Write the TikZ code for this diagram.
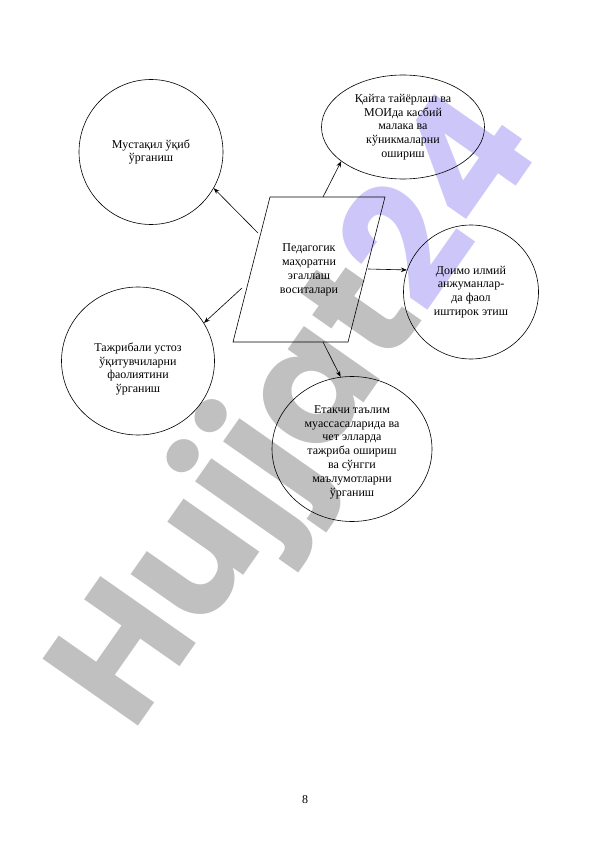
\documentclass[tikz,border=0pt]{standalone}
\usepackage{fontspec}
\setmainfont{Liberation Serif}
\newfontfamily\wmfont{Poppins}
\usetikzlibrary{shapes.geometric,arrows.meta}
\definecolor{wmgray}{RGB}{192,192,192}
\definecolor{wmpurple}{RGB}{205,198,248}
\tikzset{
  bubble/.style={draw,ellipse,line width=0.6pt,inner sep=0pt,align=center,
    font=\fontsize{12}{13.8}\selectfont},
  conn/.style={line width=0.6pt,-{Stealth[length=6pt,width=4.5pt]}},
  lbl/.style={align=center,font=\fontsize{12}{13.8}\selectfont,inner sep=0pt}
}
\begin{document}
\begin{tikzpicture}[x=1pt,y=-1pt]
\useasboundingbox (0,0) rectangle (596,842);
% watermark
\node[anchor=base west,rotate=55,inner sep=0pt,font=\wmfont\bfseries\fontsize{166}{170}\selectfont] (wm) at (132,735)
  {\textcolor{wmgray}{Hujjat}\textcolor{wmpurple}{24}};
% shapes
\node[bubble,minimum width=144pt,minimum height=145pt] (c1) at (151,152) {Мустақил ўқиб\\ўрганиш};
\node[bubble,minimum width=163pt,minimum height=104pt] (e2) at (403,127) {Қайта тайёрлаш ва\\МОИда касбий\\малака ва\\кўникмаларни\\ошириш};
\node[bubble,minimum width=135pt,minimum height=134pt] (c3) at (471,292) {Доимо илмий\\анжуманлар-\\да фаол\\иштирок этиш};
\node[bubble,minimum width=153pt,minimum height=148pt] (c4) at (138,361) {};
\node[lbl] (c4t) at (138,369) {Тажрибали устоз\\ўқитувчиларни\\фаолиятини\\ўрганиш};
\node[bubble,minimum width=160pt,minimum height=145pt] (e5) at (352,449) {};
\node[lbl] (e5t) at (352,452) {Етакчи таълим\\муассасаларида ва\\чет элларда\\тажриба ошириш\\ва сўнгги\\маълумотларни\\ўрганиш};
% parallelogram
\coordinate (p1) at (270,197);
\coordinate (p2) at (385,197);
\coordinate (p3) at (348,342);
\coordinate (p4) at (233,342);
\draw[line width=0.6pt] (p1) -- (p2) -- (p3) -- (p4) -- cycle;
\node[lbl] (pm) at (309,270) {Педагогик\\маҳоратни\\эгаллаш\\воситалари};
% connectors
\coordinate (s1) at (258,233);
\coordinate (s2) at (323,197);
\coordinate (s3) at (368,269);
\coordinate (s4) at (242,288);
\coordinate (s5) at (323,342);
\draw[conn] (s1) -- (c1.-30);
\draw[conn] (s2) -- (e2.-151);
\draw[conn] (s3) -- (c3.161);
\draw[conn] (s4) -- (c4.30);
\draw[conn] (s5) -- (e5.99);
% page number
\node[lbl] (pg) at (305,800) {8};
\end{tikzpicture}
\end{document}
